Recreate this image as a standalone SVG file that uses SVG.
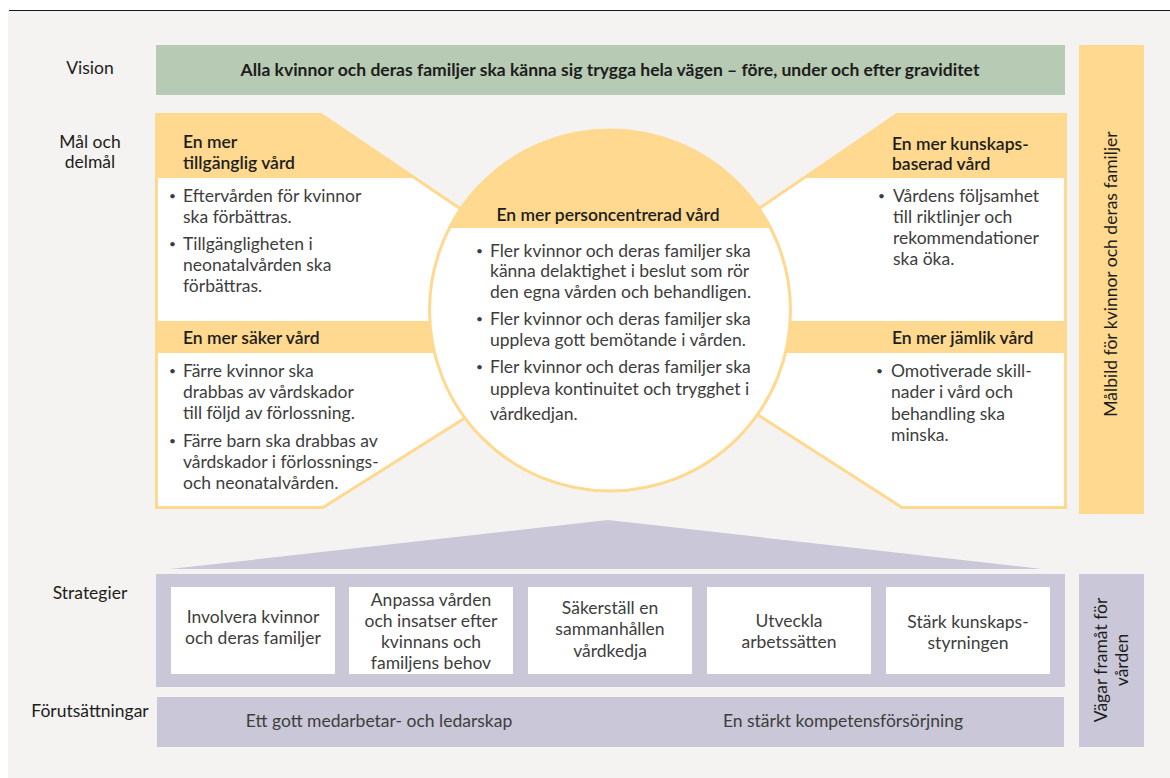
<svg xmlns="http://www.w3.org/2000/svg" width="1170" height="778" viewBox="0 0 1170 778">
<style>
text{font-family:Lato,"Open Sans","Liberation Sans",sans-serif;font-size:17.5px}
.lbl{fill:#1d1d1b;text-anchor:middle}
.hd{fill:#1d1d1b;font-weight:600}
.bd{fill:#3d3d3d;font-weight:400}
.bl{fill:#3d3d3d;font-size:12px}
.ct{fill:#3d3d3d;font-weight:400;text-anchor:middle}
.yel{fill:#fed98f}
.lav{fill:#cac8d8}
.wb{fill:#ffffff}
</style>
<defs>
<clipPath id="circClip"><circle cx="610" cy="310.5" r="180.5"/></clipPath>
</defs>
<rect x="0" y="0" width="1170" height="778" fill="#ffffff"/>
<rect x="8" y="10" width="1162" height="768" fill="#f4f3f1"/>
<line x1="9" y1="10.5" x2="1170" y2="10.5" stroke="#1a1a1a" stroke-width="1"/>

<g id="labels">
<text class="lbl" x="90" y="74">Vision</text>
<text class="lbl" x="90" y="148">Mål och</text>
<text class="lbl" x="90" y="168">delmål</text>
<text class="lbl" x="90" y="599">Strategier</text>
<text class="lbl" x="90" y="717">Förutsättningar</text>
</g>

<g id="vision">
<rect x="156" y="45" width="909" height="50" fill="#b7cab4"/>
<text x="610" y="76" text-anchor="middle" style="font-weight:700;fill:#1d1d1b">Alla kvinnor och deras familjer ska känna sig trygga hela vägen – före, under och efter graviditet</text>
</g>

<g id="goal-frame">
<path d="M156.5,114.5 L321,114.5 L610,310 L897,114.5 L1065.5,114.5 L1065.5,507.5 L902,507.5 L660,352 L560,358 L323,507.5 L156.5,507.5 Z" fill="#ffffff" stroke="#fed98f" stroke-width="3" stroke-linejoin="miter"/>
<path class="yel" d="M155,113 L321,113 L414.9,178 L155,178 Z"/>
<path class="yel" d="M897,113 L1067,113 L1067,178 L803.8,178 Z"/>
<rect class="yel" x="155" y="321" width="912" height="32"/>
</g>

<g id="goal-tillganglig">
<text class="hd" x="183" y="148">En mer</text>
<text class="hd" x="183" y="169">tillgänglig vård</text>
<text class="bl" x="169" y="200">•</text>
<text class="bd" x="183" y="202">Eftervården för kvinnor</text>
<text class="bd" x="183" y="223">ska förbättras.</text>
<text class="bl" x="169" y="248">•</text>
<text class="bd" x="183" y="250">Tillgängligheten i</text>
<text class="bd" x="183" y="271">neonatalvården ska</text>
<text class="bd" x="183" y="292">förbättras.</text>
</g>

<g id="goal-saker">
<text class="hd" x="183" y="344">En mer säker vård</text>
<text class="bl" x="169" y="375">•</text>
<text class="bd" x="183" y="377">Färre kvinnor ska</text>
<text class="bd" x="183" y="398">drabbas av vårdskador</text>
<text class="bd" x="183" y="419">till följd av förlossning.</text>
<text class="bl" x="169" y="445">•</text>
<text class="bd" x="183" y="447">Färre barn ska drabbas av</text>
<text class="bd" x="183" y="468">vårdskador i förlossnings-</text>
<text class="bd" x="183" y="489">och neonatalvården.</text>
</g>

<g id="goal-kunskapsbaserad">
<text class="hd" x="892" y="150">En mer kunskaps-</text>
<text class="hd" x="892" y="170">baserad vård</text>
<text class="bl" x="878" y="200">•</text>
<text class="bd" x="893" y="202">Vårdens följsamhet</text>
<text class="bd" x="893" y="223">till riktlinjer och</text>
<text class="bd" x="893" y="244">rekommendationer</text>
<text class="bd" x="893" y="265">ska öka.</text>
</g>

<g id="goal-jamlik">
<text class="hd" x="892" y="344">En mer jämlik vård</text>
<text class="bl" x="876" y="375">•</text>
<text class="bd" x="891" y="377">Omotiverade skill-</text>
<text class="bd" x="891" y="398">nader i vård och</text>
<text class="bd" x="891" y="420">behandling ska</text>
<text class="bd" x="891" y="441">minska.</text>
</g>

<g id="goal-personcentrerad">
<circle cx="610" cy="310.5" r="180.5" fill="#ffffff"/>
<rect class="yel" x="420" y="120" width="380" height="108" clip-path="url(#circClip)"/>
<circle cx="610" cy="310.5" r="180.5" fill="none" stroke="#fed98f" stroke-width="3"/>
<text class="hd" x="608" y="221" text-anchor="middle">En mer personcentrerad vård</text>
<text class="bl" x="476" y="255">•</text>
<text class="bd" x="490" y="257">Fler kvinnor och deras familjer ska</text>
<text class="bd" x="490" y="277">känna delaktighet i beslut som rör</text>
<text class="bd" x="490" y="298">den egna vården och behandligen.</text>
<text class="bl" x="476" y="323">•</text>
<text class="bd" x="490" y="325">Fler kvinnor och deras familjer ska</text>
<text class="bd" x="490" y="346">uppleva gott bemötande i vården.</text>
<text class="bl" x="476" y="371">•</text>
<text class="bd" x="490" y="373">Fler kvinnor och deras familjer ska</text>
<text class="bd" x="490" y="395">uppleva kontinuitet och trygghet i</text>
<text class="bd" x="490" y="420">vårdkedjan.</text>
</g>

<g id="sidebar-malbild">
<rect class="yel" x="1079" y="45" width="65" height="469"/>
<text class="lbl" transform="translate(1117,274) rotate(-90)" x="0" y="0">Målbild för kvinnor och deras familjer</text>
</g>

<g id="connectors">
<path class="lav" d="M170,569 L608,520 L1042,569 Z"/>
</g>

<g id="strategies">
<rect class="lav" x="156" y="574" width="909" height="113"/>
</g>
<g id="strategy-1">
<rect class="wb" x="171" y="587" width="164" height="87"/>
<text class="ct" x="253" y="623">Involvera kvinnor</text>
<text class="ct" x="253" y="644">och deras familjer</text>
</g>
<g id="strategy-2">
<rect class="wb" x="349" y="587" width="164" height="87"/>
<text class="ct" x="431" y="606">Anpassa vården</text>
<text class="ct" x="431" y="627">och insatser efter</text>
<text class="ct" x="431" y="648">kvinnans och</text>
<text class="ct" x="431" y="669">familjens behov</text>
</g>
<g id="strategy-3">
<rect class="wb" x="528" y="587" width="164" height="87"/>
<text class="ct" x="610" y="614">Säkerställ en</text>
<text class="ct" x="610" y="635">sammanhållen</text>
<text class="ct" x="610" y="657">vårdkedja</text>
</g>
<g id="strategy-4">
<rect class="wb" x="707" y="587" width="164" height="87"/>
<text class="ct" x="789" y="627">Utveckla</text>
<text class="ct" x="789" y="648">arbetssätten</text>
</g>
<g id="strategy-5">
<rect class="wb" x="886" y="587" width="164" height="87"/>
<text class="ct" x="968" y="628">Stärk kunskaps-</text>
<text class="ct" x="968" y="649">styrningen</text>
</g>

<g id="prerequisites">
<rect class="lav" x="157" y="697" width="907" height="50"/>
<text class="ct" x="379" y="727">Ett gott medarbetar- och ledarskap</text>
<text class="ct" x="843" y="727">En stärkt kompetensförsörjning</text>
</g>

<g id="sidebar-vagar">
<rect class="lav" x="1079" y="574" width="65" height="173"/>
<text class="lbl" transform="translate(1107,660) rotate(-90)" x="0" y="0">Vägar framåt för</text>
<text class="lbl" transform="translate(1107,660) rotate(-90)" x="0" y="21">vården</text>
</g>
</svg>
